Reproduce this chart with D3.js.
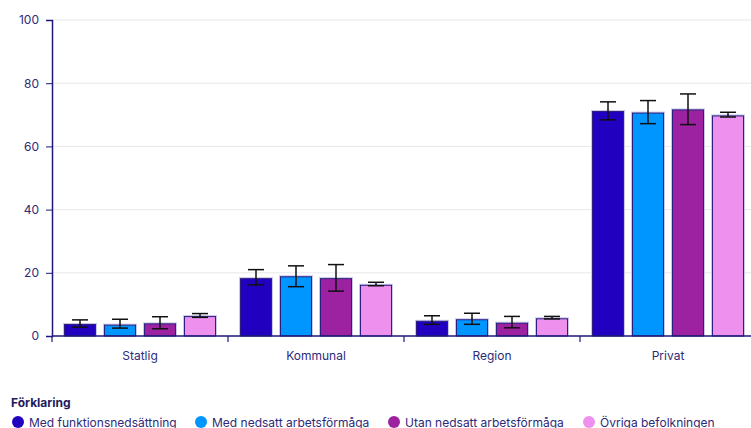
<!DOCTYPE html>
<html><head><meta charset="utf-8">
<script src="https://cdn.jsdelivr.net/npm/d3@7"></script>
<style>
body{margin:0;background:#fff;}
text{font-family:Inter, "Noto Sans", sans-serif;}
</style></head>
<body><svg id="c" width="751" height="428"></svg>
<script>
const categories = ["Statlig","Kommunal","Region","Privat"];
const seriesNames = ["Med funktionsnedsättning","Med nedsatt arbetsförmåga","Utan nedsatt arbetsförmåga","Övriga befolkningen"];
const colors = ["#2100c0","#0096ff","#9c22a2","#ee90ee"];
const values = [
  [3.8, 3.6, 4.0, 6.3],
  [18.3, 18.9, 18.3, 16.2],
  [4.8, 5.3, 4.2, 5.6],
  [71.2, 70.7, 71.7, 69.8]
];
const errLow = [
  [2.8, 2.5, 2.3, 5.9],
  [16.2, 15.6, 14.2, 15.9],
  [3.7, 3.7, 2.6, 5.4],
  [68.4, 67.2, 66.9, 69.3]
];
const errHigh = [
  [5.1, 5.3, 6.1, 7.1],
  [21.0, 22.2, 22.6, 17.0],
  [6.4, 7.2, 6.2, 6.2],
  [74.1, 74.5, 76.6, 70.8]
];
const yTicks = [0,20,40,60,80,100];

const svg = d3.select("#c");
const mLeft = 52, mRight = 756, mTop = 20, mBottom = 336;
const x = d3.scaleBand().domain(categories).range([mLeft, mRight]).paddingInner(0).paddingOuter(0);
const y = d3.scaleLinear().domain([0,100]).range([mBottom, mTop]);
const xs = d3.scaleBand().domain(d3.range(4)).range([12, x.bandwidth()-12]).paddingInner(0.2).paddingOuter(0);

// grid
svg.append("g").selectAll("line").data(yTicks.filter(d=>d>0)).join("line")
  .attr("x1", mLeft).attr("x2", 751).attr("y1", d=>y(d)).attr("y2", d=>y(d))
  .attr("stroke", "#e8e8ec").attr("stroke-width", 1);

// y axis
const ya = svg.append("g").attr("transform", `translate(${mLeft},0)`)
  .call(d3.axisLeft(y).tickValues(yTicks).tickSize(6).tickPadding(7));
ya.select(".domain").attr("stroke", "#1e1878").attr("stroke-width", 1.5);
ya.selectAll(".tick line").attr("stroke", "#1e1878");
ya.selectAll(".tick text").attr("fill", "#2e2a78").style("font-size","12px").style("font-family","Inter, sans-serif");

// bars
const groups = svg.append("g").selectAll("g").data(categories).join("g")
  .attr("transform", d=>`translate(${x(d)},0)`);
groups.each(function(cat, ci){
  const g = d3.select(this);
  const data = seriesNames.map((s,si)=>({si, v:values[ci][si], lo:errLow[ci][si], hi:errHigh[ci][si]}));
  g.selectAll("rect.halo").data(data).join("rect").attr("class","halo")
    .attr("x", d=>xs(d.si)-1).attr("width", xs.bandwidth()+2)
    .attr("y", d=>y(d.v)-1).attr("height", d=>y(0)-y(d.v)+1)
    .attr("fill", "#c9c6e6");
  g.selectAll("rect.bar").data(data).join("rect").attr("class","bar")
    .attr("x", d=>xs(d.si)+0.5).attr("width", xs.bandwidth()-1)
    .attr("y", d=>y(d.v)+0.5).attr("height", d=>y(0)-y(d.v)-0.5)
    .attr("fill", d=>colors[d.si]).attr("stroke", "#2a1f80").attr("stroke-width", 1);
  const eb = g.selectAll("g.err").data(data).join("g").attr("class","err");
  eb.append("line").attr("x1", d=>xs(d.si)+xs.bandwidth()/2).attr("x2", d=>xs(d.si)+xs.bandwidth()/2)
    .attr("y1", d=>y(d.lo)).attr("y2", d=>y(d.hi)).attr("stroke","#111").attr("stroke-width",1.5);
  eb.append("line").attr("x1", d=>xs(d.si)+xs.bandwidth()/2-8).attr("x2", d=>xs(d.si)+xs.bandwidth()/2+8)
    .attr("y1", d=>y(d.lo)).attr("y2", d=>y(d.lo)).attr("stroke","#111").attr("stroke-width",1.5);
  eb.append("line").attr("x1", d=>xs(d.si)+xs.bandwidth()/2-8).attr("x2", d=>xs(d.si)+xs.bandwidth()/2+8)
    .attr("y1", d=>y(d.hi)).attr("y2", d=>y(d.hi)).attr("stroke","#111").attr("stroke-width",1.5);
});

// x axis
const xa = svg.append("g").attr("transform", `translate(0,${mBottom})`);
xa.append("line").attr("x1", mLeft).attr("x2", 751).attr("y1",0).attr("y2",0)
  .attr("stroke","#1e1878").attr("stroke-width",1.5);
xa.selectAll("line.tk").data(categories).join("line").attr("class","tk")
  .attr("x1", d=>x(d)).attr("x2", d=>x(d)).attr("y1",0).attr("y2",6)
  .attr("stroke","#1e1878").attr("stroke-width",1.2);
xa.selectAll("text").data(categories).join("text")
  .attr("x", d=>x(d)+x.bandwidth()/2).attr("y", 24).attr("text-anchor","middle")
  .attr("fill","#2e2a78").style("font-size","12px").text(d=>d);

// legend
svg.append("text").attr("x", 11).attr("y", 407).attr("fill","#1e1a5e")
  .style("font-size","12px").style("font-weight","700").text("Förklaring");
const legX = [18, 201, 394, 589];
const lg = svg.append("g").selectAll("g").data(seriesNames).join("g")
  .attr("transform", (d,i)=>`translate(${legX[i]},422)`);
lg.append("circle").attr("r", 6).attr("cx",0).attr("cy",0).attr("fill",(d,i)=>colors[i]);
lg.append("text").attr("x", 11).attr("y", 4.5).attr("fill","#2e2a78").style("font-size","12px").text(d=>d);
</script></body></html>
